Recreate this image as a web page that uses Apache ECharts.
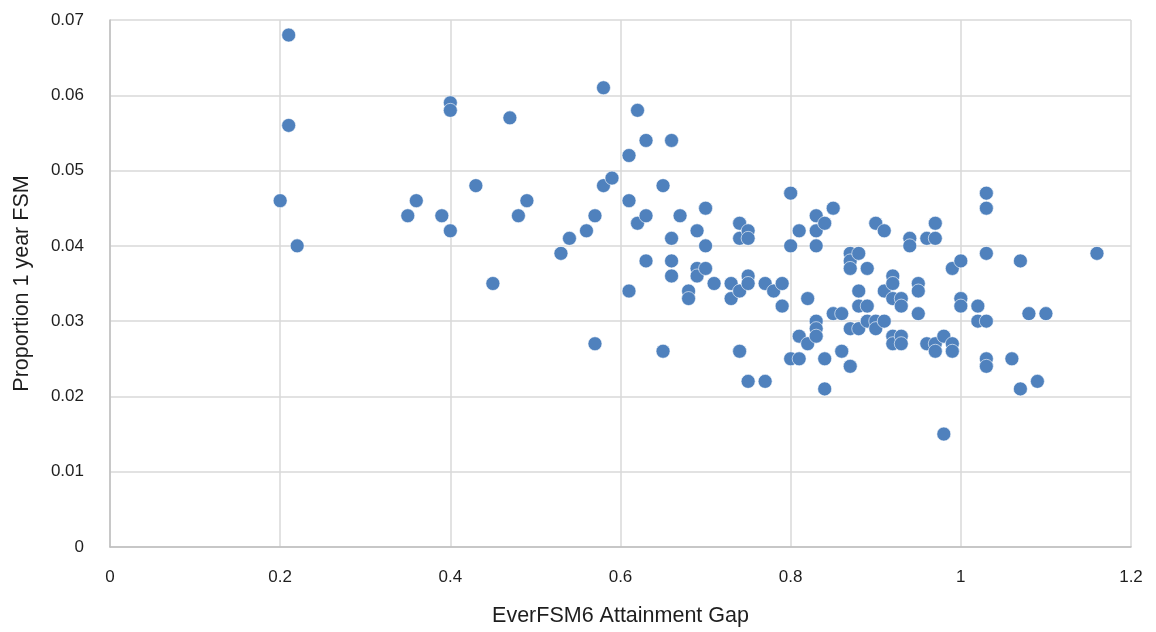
<!DOCTYPE html>
<html>
<head>
<meta charset="utf-8">
<script src="https://cdn.jsdelivr.net/npm/echarts@6/dist/echarts.min.js"></script>
<style>html,body{margin:0;padding:0;background:#fff}#c{width:1156px;height:632px}</style>
</head>
<body>
<div id="c"></div>
<script>
const xTicks = [0, 0.2, 0.4, 0.6, 0.8, 1, 1.2];
const yTicks = [0, 0.01, 0.02, 0.03, 0.04, 0.05, 0.06, 0.07];
const attainmentGap = [
0.21,0.21,0.20,0.22,0.40,0.40,0.47,0.35,0.36,0.39,0.40,0.43,0.45,0.48,0.49,0.53,0.54,0.56,0.57,0.57,
0.58,0.58,0.59,0.61,0.61,0.61,0.62,0.62,0.63,0.63,0.63,0.65,0.65,0.66,0.66,0.66,0.66,0.67,0.68,0.68,
0.69,0.69,0.69,0.70,0.70,0.70,0.71,0.73,0.73,0.74,0.74,0.74,0.74,0.75,0.75,0.75,0.75,0.75,0.77,0.77,
0.78,0.79,0.79,0.80,0.80,0.80,0.81,0.81,0.81,0.82,0.82,0.83,0.83,0.83,0.83,0.83,0.83,0.84,0.84,0.84,
0.85,0.85,0.86,0.86,0.87,0.87,0.87,0.87,0.87,0.88,0.88,0.88,0.88,0.89,0.89,0.89,0.90,0.90,0.90,0.91,
0.91,0.91,0.92,0.92,0.92,0.92,0.92,0.93,0.93,0.93,0.93,0.94,0.94,0.95,0.95,0.95,0.96,0.96,0.97,0.97,
0.97,0.97,0.98,0.98,0.99,0.99,0.99,1.00,1.00,1.00,1.02,1.02,1.03,1.03,1.03,1.03,1.03,1.03,1.06,1.07,
1.07,1.08,1.09,1.10,1.16
];
const proportionFSM = [
0.068,0.056,0.046,0.040,0.059,0.058,0.057,0.044,0.046,0.044,0.042,0.048,0.035,0.044,0.046,0.039,0.041,0.042,0.044,0.027,
0.061,0.048,0.049,0.052,0.046,0.034,0.058,0.043,0.054,0.044,0.038,0.048,0.026,0.054,0.041,0.038,0.036,0.044,0.034,0.033,
0.042,0.037,0.036,0.045,0.040,0.037,0.035,0.035,0.033,0.043,0.041,0.034,0.026,0.042,0.041,0.036,0.035,0.022,0.035,0.022,
0.034,0.035,0.032,0.047,0.040,0.025,0.042,0.028,0.025,0.033,0.027,0.044,0.042,0.040,0.030,0.029,0.028,0.043,0.025,0.021,
0.045,0.031,0.031,0.026,0.039,0.038,0.037,0.029,0.024,0.039,0.034,0.032,0.029,0.037,0.032,0.030,0.043,0.030,0.029,0.042,
0.034,0.030,0.036,0.035,0.033,0.028,0.027,0.033,0.032,0.028,0.027,0.041,0.040,0.035,0.034,0.031,0.041,0.027,0.043,0.041,
0.027,0.026,0.028,0.015,0.037,0.027,0.026,0.038,0.033,0.032,0.032,0.030,0.047,0.045,0.039,0.030,0.025,0.024,0.025,0.038,
0.021,0.031,0.022,0.031,0.039
];
const points = attainmentGap.map((x, i) => [x, proportionFSM[i]]);
const fmt = v => String(+v.toFixed(3));
const chart = echarts.init(document.getElementById('c'), null, {renderer: 'canvas'});
const font = 'Liberation Sans, Arial, sans-serif';
const textColor = '#1e1e1e';
chart.setOption({
  animation: false,
  backgroundColor: '#fff',
  grid: {left: 110, right: 25, top: 20, bottom: 84},
  xAxis: {
    type: 'value', min: xTicks[0], max: xTicks[xTicks.length - 1], interval: 0.2,
    name: 'EverFSM6 Attainment Gap', nameLocation: 'middle', nameGap: 58,
    nameTextStyle: {fontFamily: font, fontSize: 21.5, color: textColor},
    axisLine: {show: true, lineStyle: {color: '#bfbfbf', width: 1.5}},
    axisTick: {show: false},
    axisLabel: {fontFamily: font, fontSize: 17, color: textColor, margin: 22, formatter: fmt},
    splitLine: {show: true, lineStyle: {color: '#d9d9d9', width: 1.5}}
  },
  yAxis: {
    type: 'value', min: yTicks[0], max: yTicks[yTicks.length - 1], interval: 0.01,
    name: 'Proportion 1 year FSM', nameLocation: 'middle', nameGap: 77,
    nameTextStyle: {fontFamily: font, fontSize: 21.5, color: textColor},
    axisLine: {show: true, lineStyle: {color: '#bfbfbf', width: 1.5}},
    axisTick: {show: false},
    axisLabel: {fontFamily: font, fontSize: 17, color: textColor, margin: 26, formatter: fmt},
    splitLine: {show: true, lineStyle: {color: '#d9d9d9', width: 1.5}}
  },
  series: [{
    type: 'scatter',
    data: points,
    symbol: 'circle',
    symbolSize: 14,
    itemStyle: {color: '#4f81bd', borderColor: '#ffffff', borderWidth: 0.6, opacity: 1}
  }]
});
</script>
</body>
</html>
